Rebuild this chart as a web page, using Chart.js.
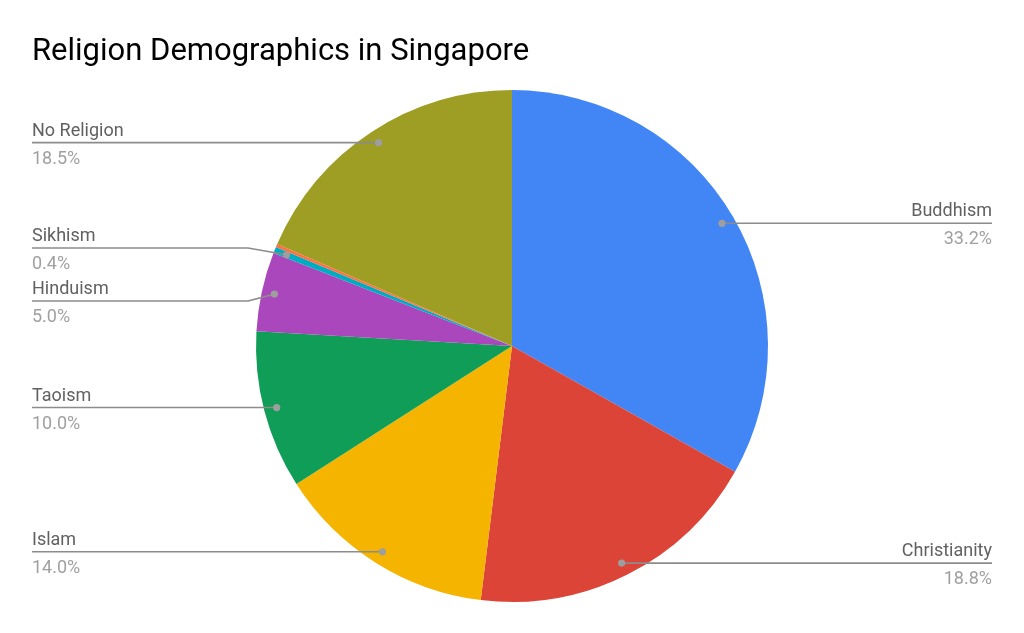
<!DOCTYPE html>
<html>
<head>
<meta charset="utf-8">
<script src="https://cdn.jsdelivr.net/npm/chart.js@4"></script>
<style>
html,body{margin:0;padding:0;background:#fff;}
#wrap{width:1024px;height:633px;}
</style>
</head>
<body>
<div id="wrap"><canvas id="c" width="1024" height="633"></canvas></div>
<script>
const chartTitle = 'Religion Demographics in Singapore';
const categories = ['Buddhism','Christianity','Islam','Taoism','Hinduism','Sikhism','Other','No Religion'];
const shares = [33.2, 18.8, 14.0, 10.0, 5.0, 0.4, 0.2, 18.5];
const showLabel = [true, true, true, true, true, true, false, true];
const colors = ['#4285F4','#DB4437','#F4B400','#0F9D58','#AB47BC','#00ACC1','#FF7043','#9E9D24'];

const FONT = 'Roboto, "Noto Sans", sans-serif';

const labelPlugin = {
  id: 'sheetLabels',
  afterDraw(chart) {
    const ctx = chart.ctx;
    const meta = chart.getDatasetMeta(0);
    ctx.save();
    ctx.fillStyle = '#000';
    ctx.font = '31px ' + FONT;
    ctx.textAlign = 'left';
    ctx.textBaseline = 'alphabetic';
    ctx.fillText(chartTitle, 32, 60);
    ctx.restore();

    const items = [];
    meta.data.forEach((arc, i) => {
      if (!showLabel[i]) return;
      const mid = (arc.startAngle + arc.endAngle) / 2;
      const r = arc.outerRadius * 0.95;
      const dx = arc.x + Math.cos(mid) * r;
      const dy = arc.y + Math.sin(mid) * r;
      items.push({i, dx, dy, ly: dy, left: Math.cos(mid) < 0, cx: arc.x, R: arc.outerRadius});
    });
    const gap = 53;
    [true, false].forEach(side => {
      const s = items.filter(it => it.left === side).sort((a, b) => a.dy - b.dy);
      let groups = s.map(it => ({members: [it], center: it.dy}));
      let changed = true;
      while (changed) {
        changed = false;
        for (let k = 0; k < groups.length - 1; k++) {
          const g1 = groups[k], g2 = groups[k + 1];
          const end1 = g1.center + (g1.members.length - 1) * gap / 2;
          const start2 = g2.center - (g2.members.length - 1) * gap / 2;
          if (start2 - end1 < gap) {
            const m = g1.members.concat(g2.members);
            const c = m.reduce((a, it) => a + it.dy, 0) / m.length;
            groups.splice(k, 2, {members: m, center: c});
            changed = true;
            break;
          }
        }
      }
      groups.forEach(g => {
        g.members.forEach((it, j) => {
          it.ly = g.center - (g.members.length - 1) * gap / 2 + j * gap;
        });
      });
    });

    items.forEach(it => {
      const i = it.i;
      ctx.save();
      ctx.strokeStyle = '#8c8c8c';
      ctx.lineWidth = 1.6;
      ctx.beginPath();
      const textX = it.left ? 32 : 992;
      const kneeX = it.left ? it.cx - it.R - 8 : it.cx + it.R + 8;
      ctx.moveTo(textX, it.ly);
      if (Math.abs(it.ly - it.dy) > 0.5) {
        ctx.lineTo(kneeX, it.ly);
      }
      ctx.lineTo(it.dx, it.dy);
      ctx.stroke();
      ctx.fillStyle = '#9e9e9e';
      ctx.beginPath();
      ctx.arc(it.dx, it.dy, 3.6, 0, Math.PI * 2);
      ctx.fill();
      ctx.textAlign = it.left ? 'left' : 'right';
      ctx.textBaseline = 'alphabetic';
      ctx.font = '18px ' + FONT;
      ctx.fillStyle = '#616161';
      ctx.fillText(categories[i], textX, it.ly - 7);
      ctx.fillStyle = '#a0a0a0';
      ctx.fillText(shares[i].toFixed(1) + '%', textX, it.ly + 21);
      ctx.restore();
    });
  }
};

new Chart(document.getElementById('c'), {
  type: 'pie',
  data: {
    labels: categories,
    datasets: [{
      data: shares,
      backgroundColor: colors,
      borderWidth: 0
    }]
  },
  options: {
    responsive: false,
    animation: false,
    devicePixelRatio: 1,
    layout: {padding: {top: 90, bottom: 31, left: 0, right: 0}},
    plugins: {
      legend: {display: false},
      tooltip: {enabled: false},
      title: {display: false}
    }
  },
  plugins: [labelPlugin]
});
</script>
</body>
</html>
